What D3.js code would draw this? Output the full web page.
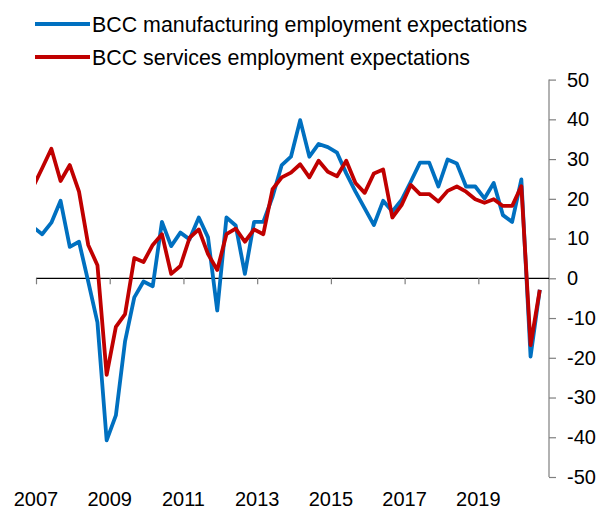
<!DOCTYPE html>
<html>
<head>
<meta charset="utf-8">
<script src="https://cdn.jsdelivr.net/npm/d3@7"></script>
<style>
  html, body { margin: 0; padding: 0; background: #fff; }
  svg { display: block; font-family: "Liberation Sans", Arial, sans-serif; }
</style>
</head>
<body>
<svg id="chart" width="606" height="510"></svg>
<script>
// Quarterly survey balances (quarter-end months), Q4 2006 to Q3 2020
const quarters = [
  "2006-12",
  "2007-03","2007-06","2007-09","2007-12",
  "2008-03","2008-06","2008-09","2008-12",
  "2009-03","2009-06","2009-09","2009-12",
  "2010-03","2010-06","2010-09","2010-12",
  "2011-03","2011-06","2011-09","2011-12",
  "2012-03","2012-06","2012-09","2012-12",
  "2013-03","2013-06","2013-09","2013-12",
  "2014-03","2014-06","2014-09","2014-12",
  "2015-03","2015-06","2015-09","2015-12",
  "2016-03","2016-06","2016-09","2016-12",
  "2017-03","2017-06","2017-09","2017-12",
  "2018-03","2018-06","2018-09","2018-12",
  "2019-03","2019-06","2019-09","2019-12",
  "2020-03","2020-06","2020-09"
];

const manufacturing = [
  12.9,
  11.1, 14.0, 19.5, 7.9,
  9.2, -0.8, -11.1, -40.8,
  -34.5, -15.8, -4.8, -0.8,
  -2.0, 14.2, 8.1, 11.5,
  9.8, 15.3, 10.3, -8.1,
  15.3, 13.3, 1.1, 14.2,
  14.2, 20.5, 28.5, 30.6,
  39.8, 30.6, 33.8, 33.0,
  31.6, 26.4, 21.8, 17.6,
  13.4, 19.5, 16.8, 19.7,
  24.3, 29.1, 29.1, 23.1,
  29.9, 28.9, 23.1, 23.1,
  20.1, 24.0, 15.9, 14.2,
  24.9, -19.7, -2.9
];

const services = [
  22.9,
  27.7, 32.6, 24.5, 28.5,
  21.8, 8.4, 3.3, -24.3,
  -12.2, -9.0, 5.1, 4.1,
  8.4, 11.1, 1.1, 3.1,
  10.2, 12.3, 6.1, 2.1,
  11.1, 12.5, 9.2, 12.3,
  11.1, 22.4, 25.4, 26.6,
  28.7, 25.4, 29.6, 26.8,
  25.7, 29.6, 24.0, 21.5,
  26.4, 27.4, 15.3, 18.4,
  23.5, 21.2, 21.2, 19.3,
  22.0, 23.1, 21.8, 19.9,
  19.0, 19.9, 18.2, 18.2,
  23.2, -16.8, -2.9
];

const yearTicks = [2007, 2009, 2011, 2013, 2015, 2017, 2019];
const yTicks = [50, 40, 30, 20, 10, 0, -10, -20, -30, -40, -50];

const seriesNames = [
  "BCC manufacturing employment expectations",
  "BCC services employment expectations"
];
const seriesColors = ["#0070C0", "#C00000"];

// Month index from January 2007
const monthIndex = s => {
  const [yr, mo] = s.split("-").map(Number);
  return (yr - 2007) * 12 + (mo - 1);
};

const svg = d3.select("#chart");
const plotLeft = 36, plotRight = 549, plotTop = 79.6, plotBottom = 477;

const x = d3.scaleLinear().domain([0, 167]).range([plotLeft, plotRight]);
const y = d3.scaleLinear().domain([-50, 50]).range([plotBottom, plotTop]);

svg.append("defs").append("clipPath").attr("id", "plotClip")
  .append("rect")
  .attr("x", plotLeft).attr("y", 0)
  .attr("width", plotRight - plotLeft).attr("height", 510);

// Right-hand value axis
const yAxis = svg.append("g")
  .attr("transform", `translate(${plotRight},0)`)
  .call(d3.axisRight(y).tickValues(yTicks).tickSize(7).tickPadding(11).tickFormat(d3.format("d")));
yAxis.select(".domain").attr("stroke", "#7f7f7f").attr("stroke-width", 1.2)
  .attr("d", `M0,${plotTop}V${plotBottom}`);
yAxis.selectAll(".tick line").attr("stroke", "#7f7f7f").attr("stroke-width", 1.2);
yAxis.selectAll(".tick text")
  .attr("font-size", "20px").attr("fill", "#000")
  .attr("font-family", "'Liberation Sans', Arial, sans-serif")
  .text(d => d < 0 ? "-" + Math.abs(d) : d);

// Horizontal axis along zero
const xAxis = svg.append("g")
  .attr("transform", `translate(0,${y(0)})`)
  .call(d3.axisBottom(x)
    .tickValues(yearTicks.map(v => (v - 2007) * 12))
    .tickSize(6).tickFormat(() => ""));
xAxis.select(".domain").attr("stroke", "#000").attr("stroke-width", 1.2)
  .attr("d", `M${plotLeft},0H${plotRight}`);
xAxis.selectAll(".tick line").attr("stroke", "#7f7f7f").attr("stroke-width", 1.2);

// Year labels along the bottom
svg.append("g").selectAll("text")
  .data(yearTicks).join("text")
  .attr("x", d => x((d - 2007) * 12))
  .attr("y", 505.5)
  .attr("text-anchor", "middle")
  .attr("font-size", "20px")
  .attr("fill", "#000")
  .text(d => d);

// Series lines
const line = d3.line()
  .x(d => x(d.m))
  .y(d => y(d.v));

[manufacturing, services].forEach((vals, i) => {
  const pts = quarters.map((q, j) => ({ m: monthIndex(q), v: vals[j] }));
  svg.append("path")
    .datum(pts)
    .attr("clip-path", "url(#plotClip)")
    .attr("fill", "none")
    .attr("stroke", seriesColors[i])
    .attr("stroke-width", 3.8)
    .attr("stroke-linejoin", "round")
    .attr("d", line);
});

// Legend
const legend = svg.append("g");
seriesNames.forEach((name, i) => {
  const ly = 24 + i * 33;
  legend.append("line")
    .attr("x1", 35).attr("x2", 90)
    .attr("y1", ly).attr("y2", ly)
    .attr("stroke", seriesColors[i]).attr("stroke-width", 3.8);
  legend.append("text")
    .attr("x", 92).attr("y", ly + 7.5)
    .attr("font-size", "21.4px").attr("fill", "#000")
    .text(name);
});
</script>
</body>
</html>
